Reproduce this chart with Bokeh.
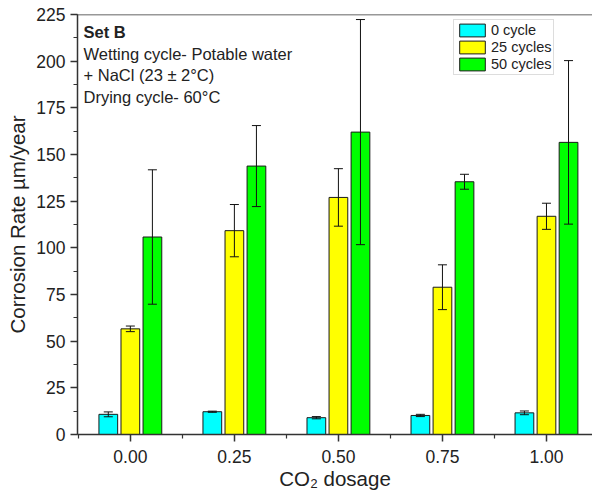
from bokeh.plotting import figure
from bokeh.models import (ColumnDataSource, FixedTicker, Whisker, TeeHead, Label,
                          Span, Legend)
from bokeh.transform import dodge
from bokeh.embed import file_html
from bokeh.resources import INLINE

# CO2 dosage groups and tick labels
dosage = [0.0, 0.25, 0.50, 0.75, 1.00]
tick_labels = ["0.00", "0.25", "0.50", "0.75", "1.00"]

# Corrosion rate (µm/year) and error (±) per wet/dry cycle count
series_names = ["0 cycle", "25 cycles", "50 cycles"]
rate_0 = [10.8, 12.2, 9.0, 10.2, 11.6]
err_0 = [1.3, 0.3, 0.6, 0.6, 1.0]
rate_25 = [56.6, 109.2, 127.0, 78.9, 116.9]
err_25 = [1.5, 14.0, 15.4, 12.0, 7.0]
rate_50 = [105.8, 143.8, 162.0, 135.4, 156.5]
err_50 = [36.0, 21.7, 60.3, 4.0, 43.8]

colors = ["#00FFFF", "#FFFF00", "#00FF00"]
offsets = [-0.053, 0.0, 0.053]
bar_w = 0.045
FONT = "Liberation Sans"
INK = "#222222"

p = figure(width=592, height=492, output_backend="svg", toolbar_location=None,
           x_range=(-0.127, 1.1106), y_range=(0, 225),
           min_border_left=77, min_border_right=0, min_border_top=14,
           min_border_bottom=58)
p.background_fill_color = "white"
p.border_fill_color = "white"
p.outline_line_color = None
p.grid.visible = False

renderers = []
for name, rate, err, col, off in zip(series_names, [rate_0, rate_25, rate_50],
                                     [err_0, err_25, err_50], colors, offsets):
    src = ColumnDataSource(dict(
        x=dosage, top=rate,
        upper=[r + e for r, e in zip(rate, err)],
        lower=[r - e for r, e in zip(rate, err)],
    ))
    r = p.vbar(x=dodge("x", off), top="top", bottom=0, width=bar_w, source=src,
               fill_color=col, line_color="#1a1a1a", line_width=1)
    renderers.append((name, [r]))
    wk = Whisker(source=src, base=dodge("x", off), upper="upper", lower="lower",
                 line_color="#111111", line_width=1, level="overlay",
                 upper_head=TeeHead(size=9, line_color="#111111", line_width=1),
                 lower_head=TeeHead(size=9, line_color="#111111", line_width=1))
    p.add_layout(wk)

# top frame line
p.add_layout(Span(location=225, dimension="width", line_color="#333333",
                  line_width=1.5))

# axes
xa = p.xaxis[0]
xa.ticker = FixedTicker(ticks=dosage,
                        minor_ticks=[-0.125, 0.125, 0.375, 0.625, 0.875, 1.125])
xa.major_label_overrides = {d: t for d, t in zip(dosage, tick_labels)}
xa.axis_label = "CO₂ dosage"

ya = p.yaxis[0]
ya.ticker = FixedTicker(ticks=list(range(0, 226, 25)),
                        minor_ticks=[12.5 * i for i in range(19)])
ya.axis_label = "Corrosion Rate µm/year"

for ax in (xa, ya):
    ax.axis_line_color = "#333333"
    ax.axis_line_width = 1.5
    ax.major_tick_line_color = "#333333"
    ax.minor_tick_line_color = "#333333"
    ax.major_tick_line_width = 1.5
    ax.minor_tick_line_width = 1.2
    ax.major_tick_in = 0
    ax.major_tick_out = 7
    ax.minor_tick_in = 0
    ax.minor_tick_out = 4
    ax.major_label_text_font = FONT
    ax.major_label_text_font_size = "17.5px"
    ax.major_label_text_color = INK
    ax.axis_label_text_font = FONT
    ax.axis_label_text_font_style = "normal"
    ax.axis_label_text_font_size = "20.5px"
    ax.axis_label_text_color = INK

xa.major_label_standoff = 8
xa.axis_label_standoff = 1
ya.major_label_standoff = 5
ya.axis_label_standoff = 4

# annotation block in the upper left
x0 = -0.1126
notes = [("Set B", "bold", 215.6),
         ("Wetting cycle- Potable water", "normal", 204.0),
         ("+ NaCl (23 ± 2°C)", "normal", 192.4),
         ("Drying cycle- 60°C", "normal", 180.8)]
for txt, style, yv in notes:
    p.add_layout(Label(x=x0, y=yv, text=txt, text_font=FONT,
                       text_font_size="16.5px", text_font_style=style,
                       text_color=INK, text_baseline="middle", text_align="left"))

legend = Legend(items=renderers, location=(376, 359))
legend.label_text_font = FONT
legend.label_text_font_size = "14.5px"
legend.label_text_color = INK
legend.glyph_width = 32
legend.glyph_height = 16
legend.label_height = 16
legend.label_standoff = 3
legend.spacing = 1
legend.padding = 2
legend.margin = 0
legend.border_line_color = "#bbbbbb"
legend.border_line_width = 1
legend.background_fill_alpha = 1
p.add_layout(legend)

open("out.html", "w").write(file_html(p, INLINE))
